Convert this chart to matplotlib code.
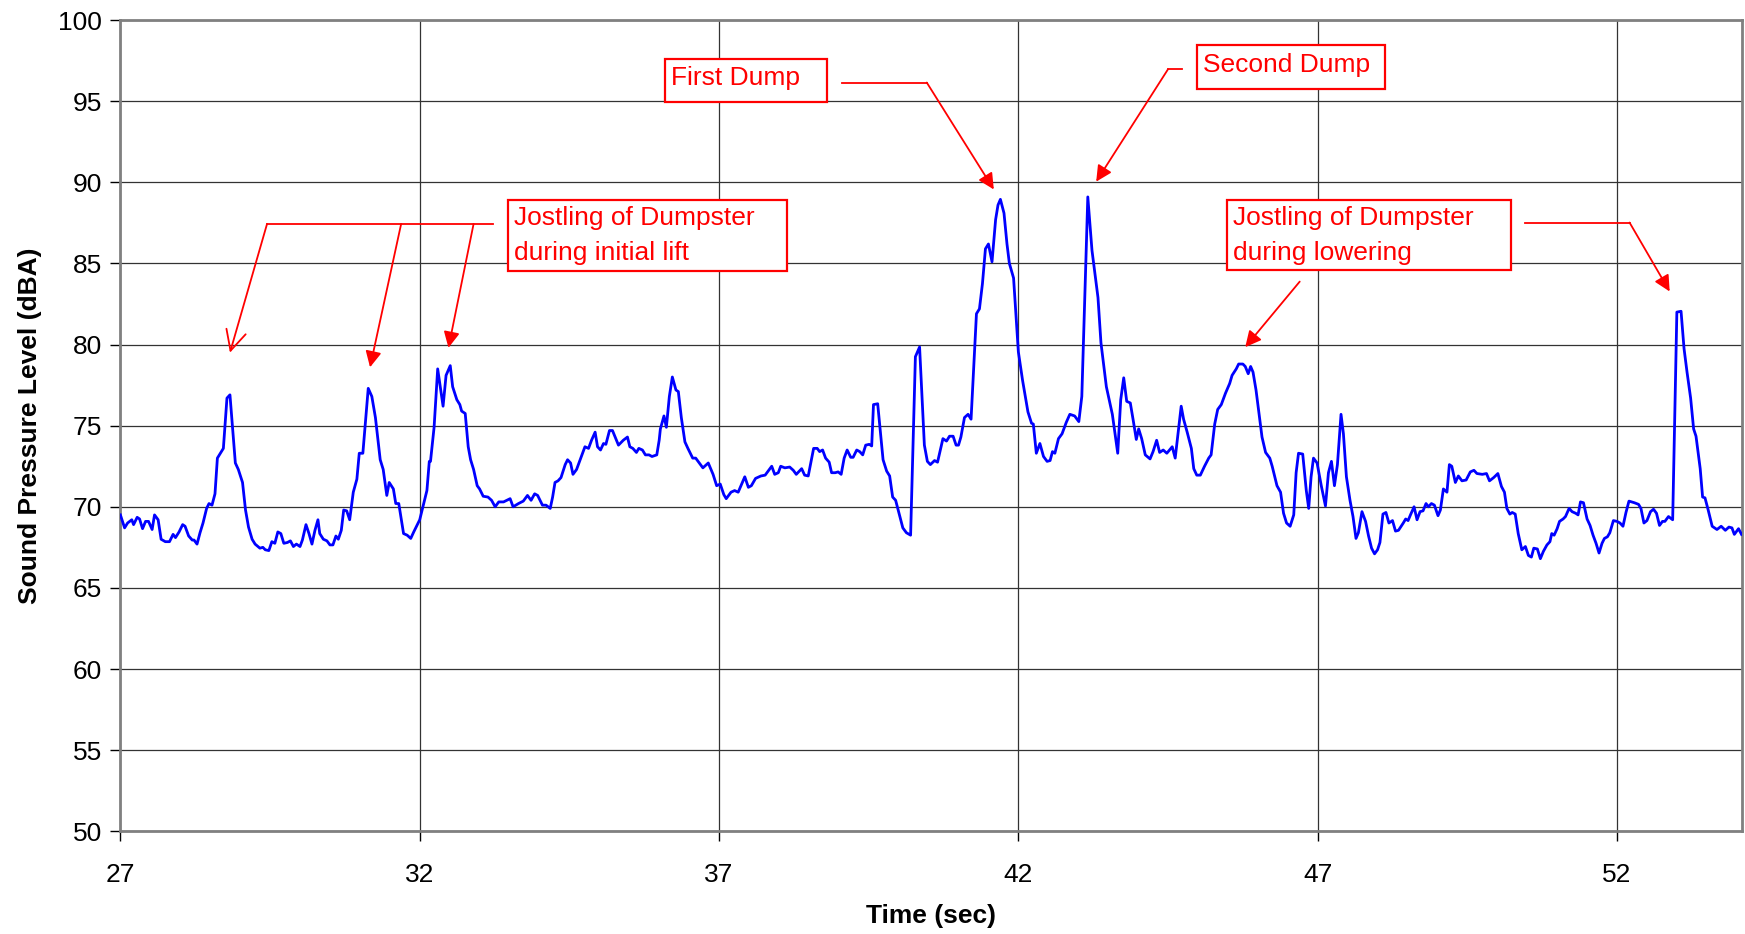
import matplotlib.pyplot as plt
from matplotlib.patches import Rectangle

# sound level trace (time in sec, level in dBA)
time_sec = [
    27.00, 27.07, 27.12, 27.19, 27.22, 27.28, 27.32, 27.37, 27.42, 27.47, 27.53, 27.57, 27.63, 27.68,
    27.75, 27.82, 27.88, 27.92, 27.98, 28.04, 28.08, 28.14, 28.20, 28.23, 28.28, 28.33, 28.38, 28.44,
    28.48, 28.53, 28.58, 28.62, 28.72, 28.78, 28.83, 28.92, 28.97, 29.04, 29.09, 29.14, 29.20, 29.25,
    29.33, 29.38, 29.42, 29.48, 29.53, 29.58, 29.63, 29.68, 29.73, 29.79, 29.84, 29.89, 29.94, 30.00,
    30.04, 30.10, 30.15, 30.20, 30.25, 30.30, 30.33, 30.39, 30.45, 30.50, 30.55, 30.60, 30.64, 30.69,
    30.73, 30.78, 30.83, 30.89, 30.95, 30.99, 31.05, 31.14, 31.20, 31.26, 31.34, 31.39, 31.45, 31.49,
    31.56, 31.60, 31.65, 31.73, 31.79, 31.85, 31.90, 32.00, 32.04, 32.12, 32.16, 32.18, 32.24, 32.30,
    32.39, 32.44, 32.51, 32.55, 32.62, 32.67, 32.70, 32.76, 32.81, 32.85, 32.90, 32.96, 33.00, 33.06,
    33.14, 33.20, 33.26, 33.32, 33.40, 33.51, 33.56, 33.65, 33.73, 33.80, 33.86, 33.92, 33.97, 34.05,
    34.11, 34.18, 34.22, 34.26, 34.31, 34.36, 34.43, 34.47, 34.52, 34.56, 34.62, 34.68, 34.76, 34.82,
    34.87, 34.93, 34.97, 35.02, 35.07, 35.11, 35.17, 35.22, 35.32, 35.40, 35.47, 35.51, 35.56, 35.62,
    35.66, 35.72, 35.77, 35.83, 35.88, 35.96, 36.00, 36.02, 36.08, 36.12, 36.17, 36.22, 36.28, 36.32,
    36.37, 36.43, 36.48, 36.56, 36.61, 36.73, 36.82, 36.90, 36.96, 37.02, 37.08, 37.12, 37.20, 37.26,
    37.32, 37.43, 37.49, 37.54, 37.61, 37.70, 37.77, 37.88, 37.93, 37.99, 38.03, 38.10, 38.18, 38.24,
    38.29, 38.38, 38.43, 38.49, 38.58, 38.64, 38.68, 38.73, 38.78, 38.84, 38.88, 38.94, 38.99, 39.04,
    39.09, 39.14, 39.20, 39.24, 39.30, 39.35, 39.40, 39.45, 39.51, 39.55, 39.58, 39.65, 39.74, 39.80,
    39.85, 39.90, 39.95, 40.02, 40.07, 40.13, 40.20, 40.28, 40.35, 40.43, 40.48, 40.53, 40.60, 40.65,
    40.74, 40.80, 40.85, 40.91, 40.96, 41.00, 41.04, 41.10, 41.16, 41.21, 41.30, 41.35, 41.40, 41.45,
    41.50, 41.56, 41.62, 41.66, 41.70, 41.76, 41.81, 41.85, 41.92, 42.00, 42.07, 42.16, 42.22, 42.25,
    42.30, 42.36, 42.42, 42.48, 42.53, 42.57, 42.61, 42.67, 42.73, 42.80, 42.86, 42.94, 43.01, 43.06,
    43.16, 43.23, 43.33, 43.38, 43.47, 43.57, 43.66, 43.71, 43.76, 43.81, 43.87, 43.92, 43.97, 44.01,
    44.06, 44.12, 44.20, 44.25, 44.31, 44.36, 44.42, 44.48, 44.57, 44.62, 44.67, 44.72, 44.76, 44.82,
    44.89, 44.93, 44.98, 45.04, 45.11, 45.18, 45.22, 45.28, 45.33, 45.39, 45.46, 45.53, 45.57, 45.64,
    45.68, 45.75, 45.79, 45.84, 45.88, 45.92, 45.97, 46.02, 46.07, 46.13, 46.20, 46.24, 46.32, 46.38,
    46.43, 46.48, 46.54, 46.60, 46.64, 46.68, 46.75, 46.81, 46.85, 46.89, 46.93, 46.99, 47.06, 47.13,
    47.18, 47.23, 47.28, 47.33, 47.39, 47.43, 47.48, 47.54, 47.59, 47.64, 47.68, 47.74, 47.80, 47.85,
    47.90, 47.95, 48.00, 48.04, 48.09, 48.14, 48.19, 48.25, 48.30, 48.35, 48.43, 48.47, 48.51, 48.55,
    48.61, 48.66, 48.71, 48.76, 48.81, 48.85, 48.90, 48.95, 49.01, 49.05, 49.10, 49.16, 49.20, 49.24,
    49.30, 49.35, 49.41, 49.48, 49.55, 49.61, 49.66, 49.75, 49.82, 49.87, 49.94, 50.01, 50.07, 50.12,
    50.16, 50.21, 50.25, 50.30, 50.35, 50.41, 50.47, 50.52, 50.57, 50.61, 50.67, 50.72, 50.77, 50.83,
    50.88, 50.91, 50.95, 51.00, 51.04, 51.10, 51.14, 51.20, 51.25, 51.31, 51.35, 51.39, 51.44, 51.50,
    51.55, 51.60, 51.65, 51.70, 51.75, 51.79, 51.84, 51.88, 51.94, 52.00, 52.05, 52.10, 52.15, 52.20,
    52.29, 52.36, 52.40, 52.45, 52.50, 52.56, 52.61, 52.66, 52.71, 52.76, 52.80, 52.86, 52.93, 53.00,
    53.07, 53.12, 53.17, 53.23, 53.28, 53.32, 53.39, 53.43, 53.47, 53.52, 53.59, 53.67, 53.74, 53.81,
    53.87, 53.92, 53.96, 54.03, 54.08,
]
level_dba = [
    69.5, 68.7, 69.0, 69.2, 68.9, 69.35, 69.25, 68.65, 69.1, 69.1, 68.6, 69.5, 69.2, 68.0,
    67.85, 67.85, 68.3, 68.1, 68.45, 68.9, 68.8, 68.2, 67.95, 67.95, 67.7, 68.4, 69.0, 69.9,
    70.2, 70.1, 70.8, 73.0, 73.6, 76.7, 76.9, 72.7, 72.3, 71.5, 69.8, 68.75, 68.0, 67.7,
    67.45, 67.5, 67.35, 67.3, 67.85, 67.75, 68.45, 68.35, 67.75, 67.8, 67.9, 67.55, 67.7, 67.55,
    67.95, 68.9, 68.35, 67.7, 68.55, 69.2, 68.35, 68.0, 67.9, 67.65, 67.65, 68.2, 68.0, 68.55,
    69.8, 69.75, 69.2, 70.9, 71.7, 73.3, 73.3, 77.3, 76.8, 75.5, 72.9, 72.3, 70.7, 71.5,
    71.1, 70.2, 70.2, 68.35, 68.25, 68.05, 68.45, 69.2, 69.8, 71.0, 72.8, 72.8, 74.9, 78.5,
    76.2, 78.1, 78.7, 77.4, 76.6, 76.3, 75.9, 75.75, 73.7, 72.9, 72.3, 71.3, 71.1, 70.65,
    70.6, 70.4, 70.0, 70.3, 70.3, 70.5, 70.0, 70.2, 70.35, 70.7, 70.4, 70.8, 70.7, 70.1,
    70.1, 69.9, 70.6, 71.5, 71.6, 71.8, 72.6, 72.9, 72.7, 72.0, 72.3, 72.9, 73.7, 73.6,
    74.1, 74.6, 73.7, 73.5, 73.9, 73.85, 74.7, 74.7, 73.8, 74.1, 74.3, 73.7, 73.6, 73.35,
    73.6, 73.5, 73.2, 73.2, 73.1, 73.2, 74.1, 74.8, 75.6, 74.9, 76.8, 78.0, 77.2, 77.1,
    75.5, 74.0, 73.6, 73.0, 73.0, 72.4, 72.7, 72.0, 71.3, 71.4, 70.75, 70.5, 70.9, 71.0,
    70.9, 71.85, 71.2, 71.3, 71.75, 71.9, 71.95, 72.5, 72.0, 72.1, 72.5, 72.4, 72.45, 72.25,
    72.0, 72.35, 71.95, 71.9, 73.6, 73.6, 73.4, 73.5, 73.0, 72.75, 72.1, 72.1, 72.15, 72.0,
    73.0, 73.5, 73.05, 73.05, 73.5, 73.4, 73.2, 73.8, 73.85, 73.75, 76.3, 76.35, 72.9, 72.2,
    71.9, 70.6, 70.4, 69.4, 68.7, 68.4, 68.25, 79.25, 79.85, 73.8, 72.8, 72.6, 72.85, 72.75,
    74.2, 74.05, 74.35, 74.35, 73.8, 73.8, 74.3, 75.5, 75.7, 75.4, 81.9, 82.2, 83.75, 85.9,
    86.2, 85.1, 87.7, 88.6, 88.95, 88.1, 86.2, 85.0, 84.1, 79.55, 77.8, 75.85, 75.15, 75.1,
    73.3, 73.9, 73.1, 72.8, 72.85, 73.4, 73.3, 74.2, 74.5, 75.2, 75.7, 75.6, 75.25, 76.8,
    89.1, 85.8, 82.9, 80.1, 77.4, 75.7, 73.3, 76.6, 77.95, 76.5, 76.4, 75.3, 74.15, 74.8,
    74.2, 73.2, 72.95, 73.4, 74.1, 73.35, 73.5, 73.3, 73.7, 73.0, 74.6, 76.2, 75.4, 74.6,
    73.6, 72.35, 71.95, 71.95, 72.5, 73.0, 73.2, 75.1, 76.0, 76.3, 77.0, 77.6, 78.1, 78.5,
    78.8, 78.8, 78.65, 78.2, 78.65, 78.3, 77.2, 75.75, 74.3, 73.35, 73.0, 72.5, 71.3, 70.9,
    69.6, 69.0, 68.8, 69.5, 72.1, 73.3, 73.25, 71.0, 69.9, 71.85, 73.0, 72.7, 71.3, 70.05,
    72.1, 72.8, 71.3, 72.6, 75.7, 74.5, 71.85, 70.4, 69.4, 68.05, 68.4, 69.7, 69.1, 68.2,
    67.45, 67.1, 67.35, 67.8, 69.55, 69.65, 69.0, 69.15, 68.5, 68.55, 69.0, 69.25, 69.15, 69.5,
    70.0, 69.2, 69.7, 69.75, 70.2, 70.0, 70.2, 70.1, 69.45, 69.8, 71.1, 70.9, 72.6, 72.5,
    71.5, 71.9, 71.6, 71.65, 72.15, 72.25, 72.05, 72.0, 72.05, 71.6, 71.8, 72.05, 71.25, 70.9,
    69.9, 69.55, 69.65, 69.55, 68.35, 67.35, 67.55, 67.0, 66.9, 67.45, 67.4, 66.8, 67.25, 67.65,
    67.85, 68.35, 68.25, 68.65, 69.1, 69.25, 69.4, 69.9, 69.7, 69.6, 69.5, 70.3, 70.25, 69.25,
    68.85, 68.25, 67.75, 67.15, 67.75, 68.05, 68.15, 68.4, 69.15, 69.1, 69.0, 68.8, 69.65, 70.35,
    70.25, 70.15, 69.9, 69.0, 69.15, 69.7, 69.85, 69.6, 68.85, 69.1, 69.1, 69.4, 69.2, 82.0,
    82.05, 79.75, 78.3, 76.7, 74.8, 74.35, 72.35, 70.6, 70.55, 69.85, 68.8, 68.6, 68.8, 68.55,
    68.75, 68.7, 68.3, 68.65, 68.3,
]

x_ticks = [27, 32, 37, 42, 47, 52]
y_ticks = [50, 55, 60, 65, 70, 75, 80, 85, 90, 95, 100]


def main():
    plt.rcParams['font.family'] = ['Liberation Sans', 'DejaVu Sans']
    fig = plt.figure(figsize=(17.45, 9.34), dpi=100)
    ax = fig.add_axes([0.069, 0.11, 0.929, 0.8685])

    ax.plot(time_sec, level_dba, color='#0000ff', lw=2.0, zorder=3)

    ax.set_xlim(27, 54.08)
    ax.set_ylim(50, 100)
    ax.set_xticks(x_ticks)
    ax.set_yticks(y_ticks)
    ax.tick_params(axis='both', labelsize=19, direction='out', length=7, width=1, color='black')
    ax.tick_params(axis='x', pad=16)
    ax.tick_params(axis='y', pad=6)
    ax.grid(True, color='#333333', lw=0.9)
    ax.set_axisbelow(True)
    for side in ['top', 'right', 'left', 'bottom']:
        ax.spines[side].set_color('#808080')
        ax.spines[side].set_linewidth(2)

    ax.set_xlabel('Time (sec)', fontsize=19, fontweight='bold', labelpad=12)
    ax.set_ylabel('Sound Pressure Level (dBA)', fontsize=19, fontweight='bold', labelpad=12)

    # text boxes
    red = '#ff0000'
    boxes = [
        (33.47, 84.54, 38.13, 88.90, 'Jostling of Dumpster\nduring initial lift'),
        (45.48, 84.57, 50.23, 88.89, 'Jostling of Dumpster\nduring lowering'),
        (36.09, 94.95, 38.80, 97.62, 'First Dump'),
        (44.98, 95.74, 48.13, 98.45, 'Second Dump'),
    ]
    for x0, y0, x1, y1, label in boxes:
        ax.add_patch(Rectangle((x0, y0), x1 - x0, y1 - y0, facecolor='white',
                               edgecolor=red, lw=1.6, zorder=4))
        dy = 0.0 if '\n' in label else 0.12
        ax.text(x0 + 0.11, (y0 + y1) / 2 + dy, label, color=red, fontsize=19,
                ha='left', va='center', linespacing=1.6, zorder=5)

    # leader lines
    leaders = [
        [(29.45, 87.44), (33.22, 87.44)],
        [(39.05, 96.15), (40.47, 96.15)],
        [(44.73, 96.97), (44.50, 96.97)],
        [(50.47, 87.52), (52.21, 87.52)],
    ]
    for seg in leaders:
        ax.plot([seg[0][0], seg[1][0]], [seg[0][1], seg[1][1]], color=red, lw=1.3, zorder=4)

    arrows = [
        ((29.45, 87.44), (28.83, 79.50), '->,head_length=0.6,head_width=0.3'),
        ((31.69, 87.44), (31.17, 78.60), '-|>'),
        ((32.90, 87.44), (32.48, 79.80), '-|>'),
        ((40.47, 96.15), (41.59, 89.56), '-|>'),
        ((44.50, 96.97), (43.30, 90.04), '-|>'),
        ((46.70, 83.88), (45.79, 79.84), '-|>'),
        ((52.21, 87.52), (52.88, 83.27), '-|>'),
    ]
    for start, tip, style in arrows:
        ax.annotate('', xy=tip, xytext=start,
                    arrowprops=dict(arrowstyle=style, color=red, lw=1.3,
                                    mutation_scale=24, shrinkA=0, shrinkB=0),
                    zorder=4)

    fig.savefig('out.png', dpi=100)


if __name__ == '__main__':
    main()
